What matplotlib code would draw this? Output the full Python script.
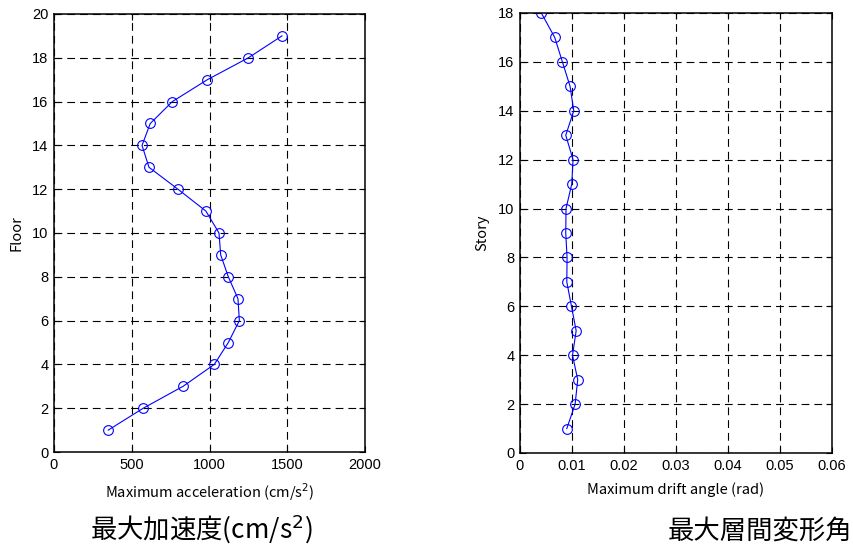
import matplotlib
matplotlib.use("Agg")
import matplotlib.pyplot as plt

# --- data ---
floors = list(range(1, 20))
max_accel = [349, 574, 830, 1031, 1121, 1192, 1183, 1121, 1072, 1061,
             977, 797, 611, 566, 619, 761, 986, 1250, 1466]

stories = list(range(1, 19))
max_drift = [0.0090, 0.0106, 0.0111, 0.0101, 0.0108, 0.0099, 0.0090, 0.00905, 0.0088,
             0.00885, 0.00995, 0.0102, 0.0088, 0.01034, 0.00963, 0.00815, 0.00668, 0.0041]

accel_ticks = [0, 500, 1000, 1500, 2000]
drift_ticks = [0, 0.01, 0.02, 0.03, 0.04, 0.05, 0.06]

JP = ["Noto Sans CJK JP", "DejaVu Sans"]
TICK_FONT = "Liberation Sans"

fig = plt.figure(figsize=(8.54, 5.51), dpi=100)
W, H = 854, 551


def add_panel(left, right, top, bottom):
    return fig.add_axes([left / W, 1 - bottom / H, (right - left) / W, (bottom - top) / H])


def style(ax):
    ax.grid(True, color="black", linestyle=(0, (7, 4.5)), linewidth=0.8)
    ax.set_axisbelow(True)
    ax.tick_params(direction="in", top=True, right=True, length=4, width=0.8,
                   labelsize=10.5, pad=4)
    for lab in ax.get_xticklabels() + ax.get_yticklabels():
        lab.set_fontfamily(TICK_FONT)
    for sp in ax.spines.values():
        sp.set_linewidth(1.1)


# --- left: maximum acceleration ---
ax1 = add_panel(54, 365, 14, 452)
ax1.plot(max_accel, floors, color="blue", linewidth=0.8, marker="o",
         markersize=7, markerfacecolor="none", markeredgecolor="blue", markeredgewidth=0.8)
ax1.set_xlim(0, 2000)
ax1.set_ylim(0, 20)
ax1.set_xticks(accel_ticks)
ax1.set_yticks(range(0, 21, 2))
style(ax1)
ax1.set_xlabel("Maximum acceleration (cm/s$^2$)", fontfamily=JP, fontsize=10.5, labelpad=7)
ax1.set_ylabel("Floor", fontfamily=JP, fontsize=10.5, labelpad=6)

# --- right: maximum drift angle ---
ax2 = add_panel(520, 832, 13, 453)
ax2.plot(max_drift, stories, color="blue", linewidth=0.8, marker="o",
         markersize=7, markerfacecolor="none", markeredgecolor="blue", markeredgewidth=0.8)
ax2.set_xlim(0, 0.06)
ax2.set_ylim(0, 18)
ax2.set_xticks(drift_ticks)
ax2.set_xticklabels(["0", "0.01", "0.02", "0.03", "0.04", "0.05", "0.06"])
ax2.set_yticks(range(0, 19, 2))
style(ax2)
ax2.set_xlabel("Maximum drift angle (rad)", fontfamily=JP, fontsize=10.5, labelpad=7)
ax2.set_ylabel("Story", fontfamily=JP, fontsize=10.5, labelpad=6)

# --- captions below the panels ---
fig.text(201 / W, 1 - 529 / H, "最大加速度(cm/s$^2$)", fontfamily=JP, fontsize=19,
         ha="center", va="center")
fig.text(852 / W, 1 - 531 / H, "最大層間変形角", fontfamily=JP, fontsize=19,
         ha="right", va="center")

fig.savefig("out.png", dpi=100)
